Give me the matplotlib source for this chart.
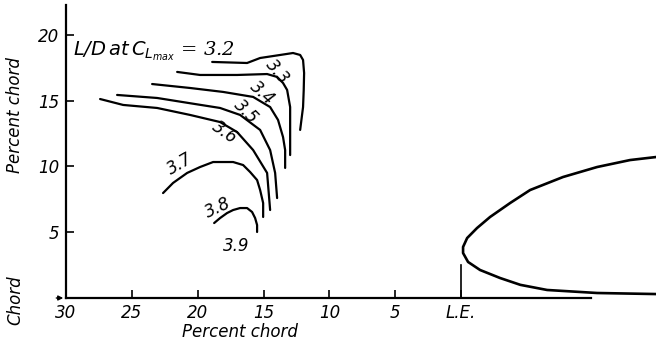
import numpy as np
import matplotlib
matplotlib.use("Agg")
import matplotlib.pyplot as plt

# contornos de L/D a CLmax (posicion en % de cuerda delante del borde de ataque, altura en % cuerda)
c32_x = [18.9, 16.25, 15.26, 13.74, 12.76, 12.22, 12.0, 11.92, 11.95, 12.0, 12.22]
c32_y = [17.95, 17.87, 18.25, 18.48, 18.63, 18.48, 18.1, 17.11, 15.8, 14.52, 12.78]
c33_x = [21.56, 19.82, 17.0, 14.73, 13.97, 13.52, 13.21, 12.98, 12.98, 12.98]
c33_y = [17.19, 16.96, 16.96, 17.03, 16.81, 16.35, 15.82, 14.52, 12.24, 10.87]
c34_x = [23.46, 20.58, 18.07, 15.79, 14.5, 13.9, 13.52, 13.36, 13.36]
c34_y = [16.27, 15.97, 15.67, 15.29, 14.52, 13.54, 12.24, 11.25, 9.89]
c35_x = [26.12, 23.08, 20.2, 18.3, 16.78, 15.26, 14.5, 14.12, 13.97]
c35_y = [15.44, 15.21, 14.75, 14.45, 13.92, 12.78, 11.25, 9.51, 7.6]
c36_x = [27.41, 25.66, 23.08, 20.58, 18.3, 17.01, 15.79, 14.73, 14.5]
c36_y = [15.13, 14.68, 14.45, 13.92, 13.38, 12.62, 11.25, 9.51, 6.69]
c37_x = [22.63, 21.87, 20.8, 19.82, 18.83, 17.31, 16.55, 16.02, 15.49, 15.26, 15.03, 15.03]
c37_y = [7.98, 8.75, 9.51, 9.96, 10.34, 10.34, 10.11, 9.58, 8.97, 8.21, 7.22, 6.16]
c38_x = [18.75, 18.3, 17.77, 17.31, 16.78, 16.25, 15.87, 15.64, 15.49, 15.49]
c38_y = [5.7, 6.08, 6.46, 6.69, 6.84, 6.84, 6.54, 6.08, 5.55, 5.02]

# perfil (solo la parte delantera)
perfil_x = [-14.81, -12.83, -10.33, -7.74, -5.24, -3.72, -2.2, -1.21, -0.46, -0.15,
            -0.15, -0.53, -1.44, -2.96, -4.5, -6.53, -10.33, -14.81]
perfil_y = [10.72, 10.49, 9.96, 9.2, 8.21, 7.22, 6.16, 5.32, 4.56, 3.88,
            3.42, 2.74, 2.13, 1.52, 1.0, 0.61, 0.38, 0.3]

xticks = [30, 25, 20, 15, 10, 5, 0]
xticklabels = ['30', '25', '20', '15', '10', '5', 'L.E.']
yticks = [5, 10, 15, 20]

# etiquetas de contorno: texto, x, y, rotacion
etiquetas = [('3.3', 13.97, 17.19, -50), ('3.4', 15.11, 15.59, -42),
             ('3.5', 16.32, 14.14, -45), ('3.6', 17.92, 12.55, -35),
             ('3.7', 21.34, 10.19, 30), ('3.8', 18.45, 6.84, 25),
             ('3.9', 17.08, 3.95, 0)]

plt.rcParams['font.family'] = ['DejaVu Sans']
plt.rcParams['font.style'] = 'italic'

fig = plt.figure(figsize=(6.56, 3.47), dpi=100)
ax = fig.add_axes([66 / 656, 49 / 347, 590 / 656, 293 / 347])
ax.set_xlim(30, -14.8)
ax.set_ylim(0, 22.28)

lw = 1.6
for xs, ys in [(c32_x, c32_y), (c33_x, c33_y), (c34_x, c34_y), (c35_x, c35_y),
               (c36_x, c36_y), (c37_x, c37_y), (c38_x, c38_y)]:
    ax.plot(xs, ys, color='black', lw=lw, solid_capstyle='round', solid_joinstyle='round')

ax.plot(perfil_x, perfil_y, color='black', lw=1.9, clip_on=False, solid_joinstyle='round')
ax.plot([0, 0], [0, 2.5], color='black', lw=1.2)

for txt, x, y, rot in etiquetas:
    ax.text(x, y, txt, fontsize=12, rotation=rot, ha='center', va='center')

ax.text(29.45, 18.75, r"$L/D\,at\,C_{L_{max}}$" + " = 3.2", fontsize=14,
        ha='left', va='center', family='DejaVu Serif')

for s in ['top', 'right']:
    ax.spines[s].set_visible(False)
ax.spines['left'].set_linewidth(1.6)
ax.spines['bottom'].set_linewidth(1.6)
ax.spines['bottom'].set_bounds(-9.9, 30)

ax.set_xticks(xticks)
ax.set_xticklabels(xticklabels)
ax.set_yticks(yticks)
ax.tick_params(axis='both', direction='in', length=6, width=1.2, labelsize=12)
ax.tick_params(axis='x', pad=4)
ax.tick_params(axis='y', pad=5)

# flechita en el origen
ax.annotate('', xy=(30, 0), xytext=(-9, 0), textcoords='offset points',
            arrowprops=dict(arrowstyle='-|>', color='black', lw=1.0, mutation_scale=7),
            annotation_clip=False)

fig.text(240 / 656, 1 - 332 / 347, 'Percent chord', fontsize=12, ha='center', va='center')
fig.text(15 / 656, 1 - 115 / 347, 'Percent chord', fontsize=12, ha='center', va='center', rotation=90)
fig.text(15 / 656, 1 - 300 / 347, 'Chord', fontsize=12, ha='center', va='center', rotation=90)

fig.savefig('out.png', dpi=100)
